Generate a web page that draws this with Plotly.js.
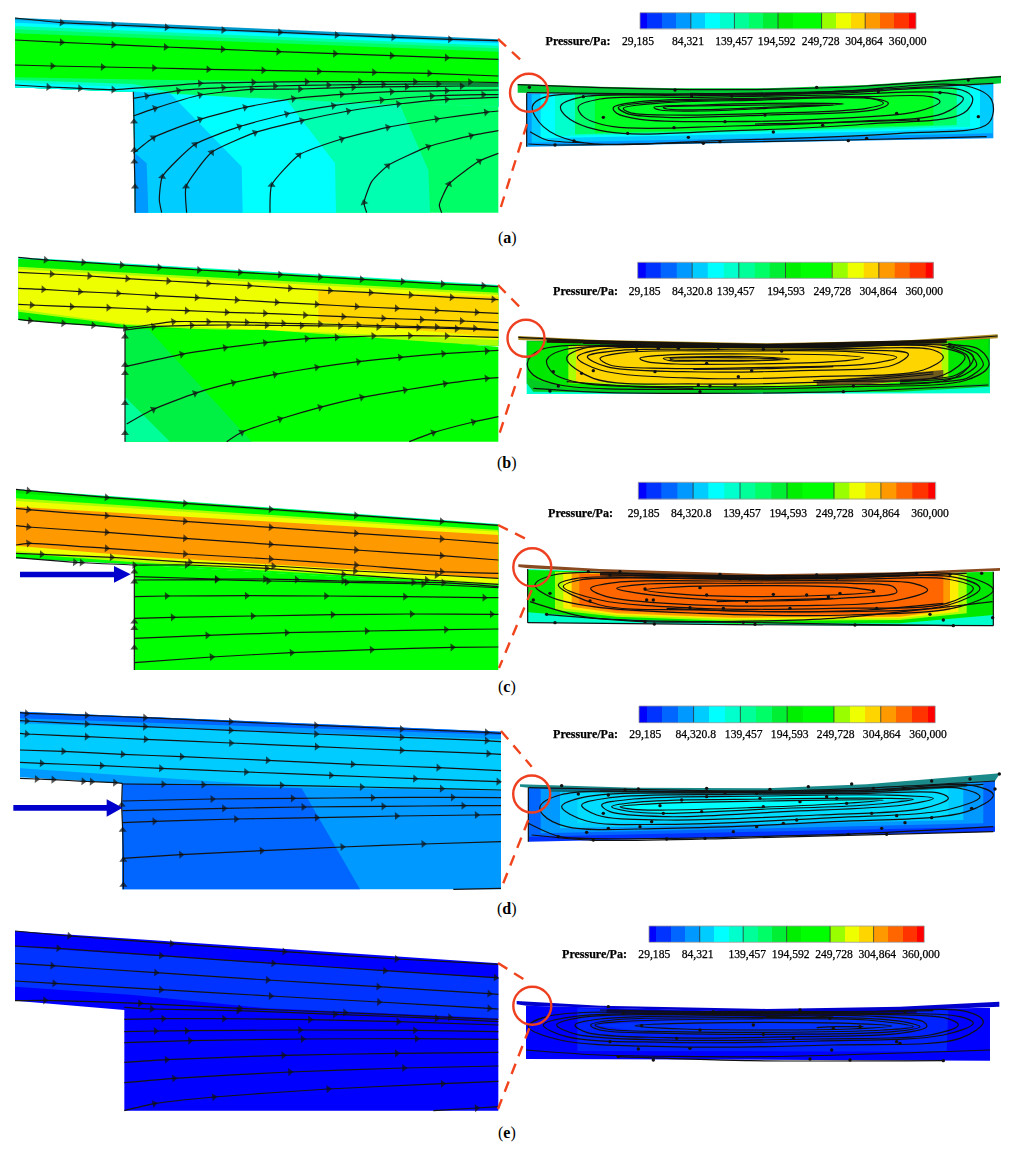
<!DOCTYPE html>
<html>
<head>
<meta charset="utf-8">
<script src="https://cdn.plot.ly/plotly-3.0.1.min.js"></script>
<style>
  body { margin: 0; background: #fff; }
  #chart { width: 1015px; height: 1149px; position: relative; }
  /* reference is a soft scan, captions sit in the top svg and stay sharp */
  #chart .main-svg:first-of-type { filter: blur(0.6px); }
  #chart .textpoint text { stroke: #000; stroke-width: 0.25px; }
</style>
</head>
<body>
<div id="chart"></div>
<script>
// all shapes below are read off 3x crops, so values are crop units (x, y, x, y, ...)
// crop origins in page pixels: a 0, b 250, c 475, d 700, e 920 left; a 0, b 250, c 475, d 695, e 915 right
const captions = ['a', 'b', 'c', 'd', 'e'];
const captionY = [238, 463, 687, 909, 1133];
const leftOriginY = [0, 250, 475, 700, 920];
const rightOriginY = [0, 250, 475, 695, 915];

// colour bar
const cbarColors = ['#0000ff', '#0033ff', '#0066ff', '#0099ff', '#00ccff', '#00ffff', '#00ffcc', '#00ff99', '#00ff66', '#00ee33',
  '#00ee00', '#00ff00', '#00ff00', '#99ff00', '#eeff00', '#ffd500', '#ff9900', '#ff6600', '#ff3300', '#ff0000'];
const cbarCells = [0, 0.5, 1.5, 2.5, 3.5, 4.5, 5.5, 6.5, 7.5, 8.5, 9.5, 10.5, 11.5, 12.5, 13.5, 14.5, 15.5, 16.5, 17.5, 18.5, 19];
const cbarMajor = [3.5, 6.5, 9.5, 12.5, 15.5];
const cbarX0 = [640, 637.7, 638.3, 639, 649];
const cbarX1 = [916, 933.3, 935.7, 935.3, 924.3];
const cbarY0 = [12.7, 262.3, 482.3, 706, 926];
const cbarY1 = [29, 278.3, 499, 722.7, 942.3];

const labelY = [41.7, 291.7, 514.3, 735.3, 955];
const pressureX = [578, 585.5, 580.5, 585.5, 594.5];
const tickTextA = ['29,185', '84,321', '139,457', '194,592', '249,728', '304,864', '360,000'];
const tickTextB = ['29,185', '84,320.8', '139,457', '194,593', '249,728', '304,864', '360,000'];
const tickText = [tickTextA, tickTextB, tickTextB, tickTextB, tickTextA];
const tickXA = [638, 688, 734, 776.7, 820.7, 864, 907.7];
const tickXB = [644.7, 692.3, 735.7, 786, 832.3, 878.3, 924.3];
const tickXC = [643.7, 691.3, 742, 788.3, 834.7, 880.7, 930];
const tickXD = [645.3, 695.7, 743.7, 789.7, 835.7, 881.7, 928];
const tickXE = [654.3, 697.7, 747.3, 790.7, 834, 877.3, 921];
const tickX = [tickXA, tickXB, tickXC, tickXD, tickXE];

// red call-outs, page pixels
const circleX = [529, 526, 532.3, 531.7, 532.3];
const circleY = [92.7, 338.3, 567.3, 794, 1005.7];
const circleR = [19, 18.5, 19, 18.5, 19];
const dashUpperX = [[498, 523], [498, 522.7], [498, 531.7], [501, 531.7], [498, 526]];
const dashUpperY = [[39, 62], [285, 310], [525, 541.7], [731, 766.7], [963, 980.7]];
const dashLowerX = [[527, 499], [521, 499], [531.7, 499], [528.3, 501], [529.3, 498]];
const dashLowerY = [[124, 213], [368, 435], [590, 668], [820, 889], [1028.3, 1109]];

// blue arrows (c, d), crop units
const blueArrowC = [60, 290, 342, 290, 342, 273, 392, 298, 342, 323, 342, 307, 60, 307];
const blueArrowD = [40, 315, 320, 315, 320, 298, 368, 323, 320, 350, 320, 332, 40, 332];

// --- panel a, left
const leftAColors = ['#0099cc', '#00ccff', '#00ffff', '#00ffaa', '#00ff66', '#00ff00', '#00ffcc', '#00ffff',
  '#00ff66', '#00ffb0', '#00ffff', '#00ccff', '#0099ff'];
const leftAFills = [
  [45, 53, 1495, 118, 1495, 320, 400, 275, 45, 262],
  [45, 60, 1495, 125, 1495, 320, 400, 275, 45, 262],
  [45, 68, 1495, 130, 1495, 320, 400, 275, 45, 262],
  [45, 78, 1495, 137, 1495, 320, 400, 275, 45, 262],
  [45, 88, 1495, 145, 1495, 320, 400, 275, 45, 262],
  [45, 100, 1495, 155, 1495, 248, 510, 240, 45, 232],
  [45, 240, 400, 252, 520, 278, 400, 275, 45, 262],
  [45, 248, 400, 262, 480, 278, 400, 275, 45, 262],
  [400, 275, 1495, 320, 1495, 638, 405, 638],
  [400, 275, 1200, 315, 1285, 510, 1290, 638, 405, 638],
  [400, 275, 860, 300, 1005, 490, 1008, 638, 405, 638],
  [400, 275, 510, 280, 725, 500, 728, 638, 405, 638],
  [405, 460, 440, 490, 445, 638, 405, 638]
];
const leftALines = [
  [45, 54, 185, 68, 340, 75, 500, 82, 670, 90, 840, 97, 1010, 105, 1180, 112, 1350, 118, 1495, 122],
  [45, 120, 185, 127, 340, 134, 497, 141, 668, 148, 835, 155, 1005, 161, 1175, 167, 1340, 173, 1495, 178],
  [45, 195, 157, 198, 308, 201, 462, 204, 625, 208, 790, 211, 957, 214, 1122, 217, 1288, 220, 1495, 228],
  [45, 255, 145, 261, 240, 265, 340, 269, 600, 250, 760, 247, 920, 245, 1080, 245, 1245, 245, 1410, 246, 1495, 248],
  [400, 295, 440, 288, 535, 272, 670, 263, 825, 258, 985, 255, 1150, 253, 1315, 252, 1495, 252],
  [400, 348, 465, 325, 600, 285, 755, 268, 900, 267, 1060, 262, 1220, 260, 1385, 258, 1495, 258],
  [400, 460, 460, 413, 600, 358, 735, 322, 880, 296, 1025, 283, 1175, 275, 1340, 272, 1495, 270],
  [485, 638, 478, 600, 487, 530, 585, 433, 718, 380, 860, 342, 1000, 317, 1145, 300, 1295, 288, 1450, 284, 1495, 284],
  [560, 638, 558, 560, 635, 457, 765, 398, 905, 362, 1045, 333, 1195, 312, 1340, 298, 1495, 292],
  [810, 638, 815, 555, 897, 465, 1025, 417, 1163, 382, 1310, 357, 1458, 337, 1495, 333],
  [1100, 638, 1092, 608, 1115, 545, 1163, 497, 1285, 440, 1413, 407, 1495, 392],
  [1325, 638, 1318, 615, 1347, 552, 1438, 483, 1495, 460],
  [405, 638, 405, 560, 403, 485, 403, 450, 402, 365, 400, 275]
];
// bend points on these lines carry no arrowhead: [line, point]
const leftAPlain = [[7, 1], [10, 2], [11, 1]];

// --- panel b, left
const leftBColors = ['#00ffcc', '#00ee00', '#aaff00', '#eeff00', '#ffd500', '#00ff00', '#00f044', '#00ff99'];
const leftBFills = [
  [55, 22, 1495, 105, 1495, 288, 375, 235, 55, 210],
  [55, 26, 1495, 108, 1495, 288, 375, 235, 55, 210],
  [55, 50, 1495, 128, 1495, 288, 375, 225, 55, 185],
  [55, 58, 1495, 135, 1495, 270, 380, 222, 55, 178],
  [955, 122, 1495, 140, 1495, 262, 955, 215],
  [375, 235, 800, 240, 1495, 290, 1495, 575, 375, 575],
  [375, 238, 445, 238, 755, 575, 375, 575],
  [375, 440, 510, 575, 375, 575]
];
const leftBLines = [
  [55, 22, 137, 30, 250, 37, 365, 45, 478, 52, 597, 60, 720, 67, 840, 74, 960, 81, 1085, 88, 1208, 95, 1328, 102, 1450, 107, 1495, 110],
  [55, 67, 155, 72, 268, 78, 382, 86, 505, 93, 625, 100, 748, 107, 870, 115, 990, 122, 1112, 128, 1232, 135, 1355, 142, 1480, 148, 1495, 149],
  [55, 115, 130, 118, 240, 125, 355, 130, 470, 137, 590, 143, 710, 150, 830, 157, 950, 163, 1070, 170, 1190, 175, 1310, 181, 1430, 187, 1495, 190],
  [55, 163, 95, 165, 215, 170, 325, 173, 445, 178, 560, 182, 680, 187, 795, 190, 915, 195, 1030, 200, 1150, 205, 1265, 209, 1385, 213, 1495, 218],
  [55, 208, 90, 212, 190, 220, 280, 226, 375, 234, 520, 215, 625, 215, 740, 217, 850, 220, 960, 222, 1075, 225, 1190, 228, 1310, 231, 1425, 235, 1495, 240],
  [375, 240, 460, 230, 575, 226, 685, 225, 800, 226, 905, 227, 1020, 228, 1135, 231, 1255, 233, 1370, 236, 1495, 241],
  [375, 350, 545, 313, 675, 293, 795, 278, 920, 266, 1010, 262, 1120, 258, 1230, 257, 1340, 258, 1495, 262],
  [380, 522, 460, 478, 585, 430, 700, 398, 825, 373, 950, 352, 1075, 335, 1200, 322, 1330, 311, 1460, 303, 1495, 301],
  [680, 575, 725, 547, 840, 507, 960, 472, 1085, 442, 1215, 420, 1335, 401, 1460, 385, 1495, 383],
  [1228, 575, 1300, 548, 1420, 516, 1495, 500],
  [375, 575, 375, 550, 375, 460, 375, 370, 375, 345, 375, 260, 375, 238]
];

// --- panel c, left
const leftCColors = ['#00ffcc', '#00e600', '#00ff00', '#aaff00', '#eeff00', '#ff9900', '#00ff00'];
const leftCFills = [
  [48, 43, 1495, 147, 1495, 335, 403, 268, 48, 250],
  [48, 44, 1495, 149, 1495, 335, 403, 268, 48, 250],
  [48, 55, 1495, 155, 1495, 335, 403, 266, 48, 245],
  [48, 70, 1495, 165, 1495, 330, 403, 262, 48, 235],
  [48, 78, 1495, 170, 1495, 325, 403, 255, 48, 228],
  [48, 95, 1495, 180, 1495, 310, 403, 243, 48, 212],
  [403, 268, 1495, 335, 1495, 585, 403, 585]
];
const leftCLines = [
  [48, 43, 85, 47, 320, 67, 555, 85, 812, 103, 1068, 121, 1325, 139, 1495, 151],
  [48, 100, 85, 104, 320, 122, 555, 139, 812, 157, 1068, 175, 1325, 192, 1495, 205],
  [48, 152, 85, 156, 320, 172, 555, 190, 812, 208, 1068, 225, 1325, 242, 1495, 255],
  [48, 210, 85, 205, 320, 220, 555, 237, 812, 252, 1068, 270, 1325, 290, 1495, 295],
  [48, 235, 125, 238, 335, 247, 570, 262, 820, 273, 1065, 288, 1310, 300, 1495, 310],
  [48, 248, 225, 262, 245, 263, 403, 270, 560, 270, 800, 280, 1030, 298, 1280, 315, 1495, 328],
  [403, 305, 650, 312, 795, 312, 890, 314, 1030, 318, 1240, 322, 1330, 323, 1495, 335],
  [403, 315, 650, 314, 805, 318, 1040, 322, 1270, 327, 1495, 338],
  [403, 365, 500, 363, 740, 362, 978, 363, 1215, 365, 1453, 368, 1495, 368],
  [403, 430, 518, 427, 758, 423, 998, 419, 1235, 417, 1475, 418, 1495, 418],
  [403, 490, 622, 481, 860, 473, 1100, 468, 1338, 464, 1495, 462],
  [403, 563, 635, 546, 875, 533, 1115, 524, 1357, 517, 1495, 516],
  [403, 585, 403, 518, 403, 460, 403, 440, 403, 320, 403, 290, 403, 270]
];

// --- panel d, left
const leftDColors = ['#0099ff', '#0066ff', '#00ccff', '#0066ff'];
const leftDFills = [
  [60, 35, 1503, 95, 1503, 568, 367, 568, 367, 250, 60, 232],
  [60, 35, 1503, 95, 1503, 105, 60, 55],
  [60, 70, 1503, 118, 1503, 272, 900, 262, 60, 205],
  [367, 250, 905, 265, 1080, 568, 367, 568]
];
const leftDLines = [
  [60, 38, 80, 40, 260, 46, 435, 53, 692, 65, 948, 76, 1205, 87, 1460, 97, 1503, 100],
  [60, 62, 80, 63, 260, 72, 435, 80, 692, 91, 948, 102, 1205, 112, 1460, 122, 1503, 125],
  [60, 100, 80, 102, 260, 110, 437, 118, 693, 129, 950, 140, 1205, 151, 1465, 161, 1503, 163],
  [60, 150, 190, 154, 368, 163, 545, 170, 803, 181, 1058, 193, 1315, 203, 1503, 212],
  [60, 187, 125, 190, 305, 197, 483, 205, 738, 216, 993, 226, 1245, 236, 1495, 245, 1503, 246],
  [60, 235, 110, 237, 160, 239, 250, 244, 275, 245, 345, 248, 367, 250],
  [367, 252, 490, 253, 610, 254, 845, 256, 1085, 261, 1325, 266, 1503, 270],
  [367, 303, 637, 297, 878, 295, 1118, 293, 1358, 292, 1503, 293],
  [367, 332, 672, 325, 910, 321, 1150, 319, 1390, 317, 1503, 317],
  [367, 368, 463, 364, 708, 357, 950, 353, 1190, 348, 1430, 345, 1503, 344],
  [367, 475, 543, 464, 785, 452, 1027, 441, 1270, 432, 1503, 425],
  [370, 568, 370, 555, 370, 480, 368, 390, 365, 315, 367, 250],
  [1360, 568, 1503, 565]
];

// --- panel e, left
const leftEColors = ['#0000ff', '#0033ff'];
const leftEFills = [
  [45, 33, 1495, 130, 1495, 572, 373, 572, 373, 270, 45, 242],
  [45, 80, 1495, 175, 1495, 295, 800, 265, 400, 225, 45, 200]
];
const leftELines = [
  [45, 33, 208, 48, 515, 71, 853, 95, 1190, 117, 1495, 133],
  [45, 78, 175, 85, 483, 107, 820, 130, 1155, 152, 1487, 173, 1495, 174],
  [45, 130, 157, 137, 468, 158, 803, 180, 1135, 200, 1468, 221, 1495, 223],
  [45, 183, 163, 190, 483, 209, 812, 228, 1137, 246, 1468, 265, 1495, 267],
  [45, 242, 135, 241, 420, 250, 720, 265, 1035, 278, 1350, 292, 1495, 298],
  [373, 262, 455, 267, 715, 272, 1005, 283, 1310, 295, 1495, 305],
  [373, 298, 490, 296, 672, 296, 930, 299, 1195, 305, 1495, 315],
  [373, 335, 467, 333, 560, 332, 900, 330, 1245, 331, 1495, 335],
  [373, 368, 570, 362, 908, 357, 1250, 356, 1495, 358],
  [373, 427, 500, 419, 850, 406, 1190, 400, 1495, 397],
  [373, 488, 522, 475, 870, 456, 1212, 444, 1495, 438],
  [373, 572, 463, 551, 642, 531, 985, 507, 1328, 491, 1495, 484],
  [1300, 572, 1430, 564, 1495, 560]
];

// --- panel a, right
const rightAColors = ['#0099ff', '#00ccff', '#00ffff', '#00ffcc', '#00ff66', '#00ff22', '#00cc33', '#063a16'];
const rightAFills = [
  [80, 280, 500, 283, 800, 283, 1100, 272, 1480, 252, 1480, 415, 80, 440],
  [95, 283, 800, 284, 1100, 272, 1478, 254, 1478, 400, 1100, 408, 95, 428],
  [122, 283, 800, 285, 1440, 256, 1440, 385, 1100, 395, 122, 415],
  [165, 283, 800, 285, 1410, 258, 1410, 380, 1100, 390, 700, 398, 165, 408],
  [225, 284, 800, 284, 1370, 260, 1370, 375, 1100, 385, 700, 393, 225, 403],
  [285, 285, 800, 284, 1300, 265, 1300, 375, 900, 385, 285, 398],
  [53, 252, 300, 260, 525, 265, 800, 265, 1100, 255, 1503, 227, 1503, 250, 1480, 252, 1100, 272, 800, 283, 500, 283, 80, 278, 53, 278],
  [570, 278, 800, 282, 1150, 266, 1150, 272, 800, 288, 570, 285]
];
const rightALoops = [
  [97, 320, 130, 293, 500, 283, 1000, 275, 1400, 258, 1475, 300, 1465, 370, 1200, 400, 700, 420, 230, 425, 130, 380],
  [182, 318, 240, 292, 600, 287, 1000, 280, 1385, 270, 1418, 295, 1390, 340, 1100, 372, 700, 392, 320, 395, 200, 350],
  [235, 320, 300, 297, 600, 292, 1000, 285, 1330, 278, 1390, 295, 1330, 340, 1050, 365, 700, 378, 340, 380, 250, 350],
  [340, 323, 420, 305, 750, 295, 1100, 290, 1290, 290, 1320, 305, 1250, 335, 950, 358, 650, 365, 420, 358, 350, 340],
  [355, 322, 450, 307, 750, 298, 1100, 293, 1165, 310, 1130, 328, 800, 345, 500, 352, 380, 340],
  [370, 325, 470, 310, 750, 301, 1120, 297, 1150, 310, 1100, 325, 800, 340, 500, 345, 390, 338],
  [462, 322, 600, 315, 800, 310, 1030, 312, 800, 325, 600, 333, 480, 330],
  [490, 322, 650, 317, 800, 315, 1000, 315, 800, 322, 650, 328, 500, 327]
];
const rightAOpen = [
  [53, 254, 300, 263, 525, 268, 800, 268, 1100, 258, 1503, 230],
  [80, 278, 500, 282, 800, 281, 1100, 270, 1480, 250],
  [765, 372, 1000, 368, 1250, 360],
  [85, 432, 165, 435, 600, 428, 1040, 420, 1460, 410],
  [90, 395, 140, 420, 250, 428],
  [80, 280, 80, 440]
];
const rightADots = [165, 435, 222, 423, 383, 400, 522, 383, 565, 412, 610, 430, 660, 425, 820, 396, 968, 376, 1100, 415, 1190, 340, 1255, 360, 1435, 350,
  1320, 278, 1135, 275, 950, 262, 695, 288, 575, 288, 525, 270, 250, 290, 310, 352, 675, 365, 795, 345, 1045, 422, 88, 262, 1405, 240];

// --- panel b, right
const rightBColors = ['#00ffcc', '#00cc22', '#00e800', '#aaff00', '#ffd500', '#a88a20', '#1e1405', '#6e5a1c'];
const rightBFills = [
  [80, 272, 800, 285, 1470, 265, 1470, 430, 80, 432],
  [80, 272, 800, 285, 1470, 265, 1468, 410, 1200, 425, 580, 430, 100, 425, 80, 400],
  [85, 275, 800, 287, 1465, 268, 1465, 400, 1200, 415, 600, 418, 200, 415, 85, 385],
  [205, 285, 800, 287, 1345, 280, 1345, 385, 1100, 405, 600, 412, 205, 400],
  [228, 285, 800, 287, 1325, 280, 1325, 385, 1100, 400, 600, 405, 228, 395],
  [55, 258, 300, 270, 800, 280, 1200, 272, 1493, 253, 1493, 265, 1200, 282, 800, 288, 300, 278, 55, 270],
  [140, 268, 800, 282, 1340, 268, 1340, 278, 800, 292, 140, 278],
  [950, 395, 1100, 380, 1330, 360, 1330, 385, 1100, 403, 950, 406]
];
const rightBLoops = [
  [82, 340, 120, 300, 500, 290, 1000, 290, 1340, 283, 1440, 300, 1467, 345, 1400, 390, 1050, 410, 600, 418, 180, 405, 100, 375],
  [140, 330, 190, 300, 600, 292, 1000, 292, 1340, 288, 1420, 320, 1370, 380, 1000, 405, 600, 410, 250, 400, 160, 370],
  [200, 325, 250, 295, 600, 290, 1000, 290, 1300, 290, 1395, 320, 1330, 375, 1000, 395, 600, 402, 280, 385],
  [232, 322, 300, 298, 650, 293, 1050, 295, 1300, 300, 1330, 322, 1270, 360, 950, 380, 600, 385, 300, 360],
  [262, 320, 350, 302, 650, 298, 1050, 300, 1225, 312, 1180, 345, 900, 362, 550, 365, 320, 350],
  [300, 325, 380, 307, 700, 303, 1050, 305, 1190, 322, 1120, 340, 800, 352, 500, 355, 330, 345],
  [420, 325, 520, 314, 750, 312, 1000, 315, 1090, 323, 1000, 335, 750, 342, 530, 342, 440, 335],
  [490, 325, 620, 320, 750, 320, 870, 327, 750, 333, 600, 333, 510, 332],
  [510, 326, 620, 323, 750, 324, 850, 327, 750, 331, 600, 331, 520, 330]
];
const rightBOpen = [
  [55, 262, 300, 273, 800, 283, 1200, 276, 1493, 258],
  [250, 280, 600, 287, 1000, 286, 1340, 276],
  [300, 285, 700, 290, 1200, 284],
  [1345, 280, 1430, 310, 1450, 345, 1400, 385, 1200, 400],
  [1345, 285, 1410, 310, 1430, 345, 1380, 380, 1200, 395],
  [1340, 290, 1400, 315, 1410, 345, 1360, 378, 1200, 390],
  [940, 397, 1100, 390, 1300, 372],
  [940, 392, 1100, 385, 1300, 366],
  [580, 358, 800, 356, 1000, 350],
  [200, 395, 400, 410, 580, 415],
  [100, 415, 300, 427, 580, 430, 1030, 425, 1465, 405]
];
const rightBDots = [150, 423, 175, 408, 280, 362, 410, 300, 475, 295, 535, 295, 620, 340, 655, 292, 790, 298, 845, 303, 875, 288, 1000, 290, 1095, 285,
  595, 405, 630, 408, 705, 405, 715, 380, 755, 362, 1060, 408, 1030, 425, 600, 425, 160, 365, 245, 370, 465, 365];

// --- panel c, right
const rightCColors = ['#00ffcc', '#00e800', '#aaff00', '#ffee00', '#ff9900', '#ff6600', '#8a4a20', '#3c1e0c'];
const rightCFills = [
  [83, 282, 500, 297, 800, 305, 1200, 300, 1480, 290, 1480, 452, 1100, 452, 700, 448, 83, 443],
  [83, 285, 800, 305, 1480, 290, 1480, 420, 1200, 445, 700, 446, 350, 432, 180, 420, 83, 412],
  [165, 290, 800, 305, 1400, 293, 1400, 415, 1200, 435, 700, 438, 350, 425, 165, 405],
  [190, 292, 800, 305, 1375, 293, 1375, 410, 1200, 430, 700, 433, 350, 420, 190, 400],
  [215, 294, 800, 305, 1350, 293, 1350, 405, 1200, 425, 700, 428, 350, 415, 215, 395],
  [238, 296, 800, 305, 1330, 294, 1330, 398, 1200, 418, 700, 420, 350, 408, 238, 390],
  [55, 268, 300, 282, 800, 298, 1200, 292, 1500, 279, 1500, 287, 1200, 300, 800, 306, 300, 290, 85, 280, 55, 276],
  [300, 290, 800, 302, 1250, 292, 1250, 300, 800, 316, 300, 300]
];
const rightCLoops = [
  [105, 330, 160, 300, 600, 302, 1000, 302, 1380, 300, 1480, 345, 1380, 395, 1050, 420, 600, 415, 280, 395, 150, 365],
  [175, 330, 230, 310, 600, 310, 1000, 310, 1370, 308, 1440, 340, 1345, 390, 1000, 410, 600, 405, 300, 390],
  [190, 335, 240, 315, 700, 313, 1100, 312, 1340, 312, 1420, 340, 1340, 385, 1000, 400, 600, 400, 300, 375],
  [272, 340, 350, 322, 700, 318, 1100, 318, 1240, 325, 1283, 345, 1180, 378, 900, 392, 550, 388, 320, 365],
  [350, 340, 430, 328, 750, 325, 1050, 325, 1180, 335, 1190, 352, 1050, 368, 800, 378, 500, 365],
  [435, 345, 550, 335, 800, 332, 1050, 338, 1125, 350, 1000, 360, 750, 365, 550, 358]
];
const rightCOpen = [
  [90, 380, 250, 425, 600, 440, 1000, 430, 1478, 380],
  [135, 418, 430, 440, 730, 442, 1060, 448, 1360, 452],
  [300, 300, 600, 305, 1000, 306, 1400, 295],
  [400, 302, 800, 308, 1200, 303],
  [500, 400, 800, 410, 1100, 405, 1330, 385],
  [650, 380, 1000, 370],
  [83, 282, 83, 443],
  [83, 443, 700, 449, 1480, 452],
  [1480, 452, 1480, 290]
];
const rightCDots = [165, 443, 435, 440, 463, 447, 730, 442, 765, 448, 1065, 450, 1360, 452, 1478, 428, 1330, 435, 140, 418, 100, 375, 150, 355, 270, 378,
  440, 375, 460, 375, 570, 398, 740, 380, 820, 358, 920, 360, 985, 365, 1020, 355, 1120, 348, 435, 342, 600, 338, 620, 360, 330, 300, 360, 290, 265, 290,
  490, 305, 660, 298, 720, 312, 850, 305, 950, 300, 1010, 310, 1250, 295, 1350, 298, 1445, 295, 1130, 400, 1290, 418, 670, 400, 870, 400];

// --- panel d, right
const rightDColors = ['#0033ff', '#0066ff', '#0099ff', '#00ccff', '#00ddff', '#00ffff', '#1a8a8a', '#0a6a78'];
const rightDFills = [
  [85, 278, 800, 290, 1100, 280, 1485, 258, 1485, 410, 85, 440],
  [85, 278, 800, 290, 1100, 280, 1485, 258, 1485, 395, 85, 425],
  [122, 282, 800, 290, 1450, 262, 1450, 385, 122, 415],
  [180, 285, 800, 290, 1390, 265, 1390, 375, 180, 400],
  [232, 285, 800, 290, 1345, 272, 1345, 365, 232, 385],
  [340, 330, 500, 315, 900, 300, 1250, 305, 1000, 330, 800, 345, 500, 358],
  [60, 268, 400, 278, 800, 280, 1100, 268, 1500, 235, 1485, 258, 1100, 280, 800, 290, 85, 278, 60, 275],
  [150, 282, 800, 290, 1400, 264, 1400, 276, 1100, 296, 800, 300, 150, 290]
];
const rightDLoops = [
  [120, 335, 180, 300, 600, 290, 1100, 285, 1420, 272, 1480, 300, 1400, 350, 1000, 380, 500, 400, 200, 395, 130, 360],
  [185, 335, 260, 305, 650, 293, 1100, 290, 1380, 280, 1440, 305, 1340, 345, 1000, 368, 500, 388, 260, 378],
  [245, 330, 330, 308, 700, 298, 1100, 295, 1320, 295, 1345, 310, 1270, 340, 950, 360, 500, 375, 290, 360],
  [305, 330, 400, 312, 800, 303, 1150, 300, 1300, 310, 1210, 330, 850, 350, 500, 365, 330, 350],
  [335, 335, 430, 320, 800, 312, 1150, 310, 1240, 313, 1100, 330, 800, 342, 500, 355, 380, 348],
  [360, 335, 480, 325, 800, 318, 1150, 315, 1000, 327, 750, 338, 500, 345, 400, 343]
];
const rightDOpen = [
  [85, 385, 180, 425, 500, 430, 1100, 415, 1480, 395],
  [95, 420, 280, 436, 700, 430, 1160, 418, 1480, 410],
  [300, 288, 800, 292, 1200, 282, 1450, 268],
  [85, 278, 800, 288, 1100, 279, 1485, 258],
  [85, 278, 85, 440]
];
const rightDDots = [185, 272, 235, 297, 325, 300, 375, 285, 415, 282, 620, 280, 675, 293, 770, 295, 810, 283, 925, 275, 1055, 267, 1120, 280, 1210, 280,
  1295, 258, 1410, 252, 1485, 282, 1498, 237, 545, 315, 620, 305, 605, 350, 490, 355, 480, 332, 310, 355, 325, 400, 260, 412, 175, 425, 280, 435, 500, 432,
  615, 430, 700, 410, 770, 395, 850, 385, 890, 375, 1040, 325, 1010, 310, 1115, 355, 1190, 362, 1215, 383, 1295, 368, 1415, 340, 1145, 400, 1160, 418,
  1045, 418, 980, 305, 900, 320, 780, 310, 455, 380, 420, 395, 790, 335];

// --- panel e, right
const rightEColors = ['#0000ff', '#0022ff', '#0033ff', '#0000cc', '#00008a'];
const rightEFills = [
  [78, 272, 800, 290, 1470, 278, 1470, 437, 78, 432],
  [232, 280, 800, 292, 1345, 285, 1340, 410, 232, 408],
  [290, 330, 700, 305, 1100, 306, 1270, 330, 1100, 352, 500, 360],
  [50, 258, 300, 272, 800, 282, 1200, 275, 1498, 260, 1498, 275, 1200, 287, 800, 292, 80, 272, 50, 268],
  [320, 282, 800, 292, 1250, 285, 1250, 294, 800, 306, 320, 294]
];
const rightELoops = [
  [85, 335, 140, 305, 600, 290, 1100, 290, 1400, 290, 1450, 320, 1380, 370, 1000, 390, 500, 395, 180, 375],
  [130, 330, 220, 305, 650, 295, 1100, 295, 1380, 305, 1420, 325, 1330, 360, 950, 378, 500, 382, 200, 365],
  [170, 330, 240, 308, 650, 298, 1100, 298, 1340, 310, 1375, 330, 1290, 360, 950, 372, 500, 375, 230, 358],
  [225, 330, 300, 312, 700, 302, 1100, 303, 1270, 320, 1280, 335, 1200, 355, 900, 365, 500, 368, 260, 352],
  [272, 330, 340, 315, 700, 308, 1100, 310, 1220, 322, 1260, 335, 1180, 350, 850, 358, 500, 355, 300, 345],
  [285, 330, 360, 320, 700, 312, 1100, 315, 1240, 335, 1150, 345, 800, 352, 500, 350, 320, 342],
  [405, 332, 550, 325, 800, 322, 1050, 325, 1175, 333, 1050, 342, 800, 345, 550, 342]
];
const rightEOpen = [
  [78, 405, 300, 420, 800, 425, 1470, 405],
  [350, 425, 750, 437, 1330, 437],
  [300, 285, 800, 293, 1300, 287],
  [950, 338, 1010, 335, 1090, 335],
  [800, 305, 900, 307, 1000, 303]
];
const rightEDots = [355, 425, 460, 435, 930, 432, 1050, 435, 1330, 437, 995, 405, 570, 400, 415, 402, 330, 380, 530, 370, 880, 368, 1200, 385, 1190, 380,
  790, 358, 640, 290, 370, 295, 900, 285, 1215, 290, 990, 310, 425, 332, 1000, 340, 1080, 335, 325, 275, 600, 345, 760, 330];

const leftColors = [leftAColors, leftBColors, leftCColors, leftDColors, leftEColors];
const leftFills = [leftAFills, leftBFills, leftCFills, leftDFills, leftEFills];
const leftLines = [leftALines, leftBLines, leftCLines, leftDLines, leftELines];
const leftPlain = [leftAPlain, [], [], [], []];
const rightColors = [rightAColors, rightBColors, rightCColors, rightDColors, rightEColors];
const rightFills = [rightAFills, rightBFills, rightCFills, rightDFills, rightEFills];
const rightLoops = [rightALoops, rightBLoops, rightCLoops, rightDLoops, rightELoops];
const rightOpen = [rightAOpen, rightBOpen, rightCOpen, rightDOpen, rightEOpen];
const rightDots = [rightADots, rightBDots, rightCDots, rightDDots, rightEDots];

// crop units -> page pixels
const toPage = (flat, ox, oy) => {
  const x = [], y = [];
  for (let i = 0; i < flat.length; i += 2) {
    x.push(flat[i] / 3 + ox);
    y.push(flat[i + 1] / 3 + oy);
  }
  return { x, y };
};

const traces = [];

const addFill = (flat, ox, oy, color) => {
  traces.push({ ...toPage(flat, ox, oy), type: 'scatter', mode: 'lines', fill: 'toself', fillcolor: color,
    line: { width: 0 }, hoverinfo: 'skip' });
};

// streamline with an arrowhead on every inner point, except the listed bends
const addStream = (flat, ox, oy, plain) => {
  const p = toPage(flat, ox, oy);
  const sizes = p.x.map((_, i) => (i === 0 || i === p.x.length - 1 || plain.includes(i)) ? 0 : 7);
  traces.push({ ...p, type: 'scatter', mode: 'lines+markers', hoverinfo: 'skip',
    line: { color: '#141414', width: 1.2, shape: 'spline', smoothing: 0.5 },
    marker: { symbol: 'triangle-up', size: sizes, color: '#111', angleref: 'previous', line: { width: 0 } } });
};

captions.forEach((_, k) => {
  const oyL = leftOriginY[k], oyR = rightOriginY[k];

  leftFills[k].forEach((f, i) => addFill(f, 0, oyL, leftColors[k][i]));
  leftLines[k].forEach((l, i) => addStream(l, 0, oyL, leftPlain[k].filter(p => p[0] === i).map(p => p[1])));

  rightFills[k].forEach((f, i) => addFill(f, 500, oyR, rightColors[k][i]));
  rightLoops[k].forEach(l => {
    const closed = l.concat([l[0], l[1]]);
    traces.push({ ...toPage(closed, 500, oyR), type: 'scatter', mode: 'lines', hoverinfo: 'skip',
      line: { color: '#111', width: 1.2, shape: 'spline', smoothing: 1 } });
  });
  rightOpen[k].forEach(l => {
    traces.push({ ...toPage(l, 500, oyR), type: 'scatter', mode: 'lines', hoverinfo: 'skip',
      line: { color: '#111', width: 1.2, shape: 'spline', smoothing: 0.7 } });
  });
  traces.push({ ...toPage(rightDots[k], 500, oyR), type: 'scatter', mode: 'markers', hoverinfo: 'skip',
    marker: { size: 3.4, color: '#111' } });

  // colour bar
  const w = (cbarX1[k] - cbarX0[k]) / 19;
  traces.push({ type: 'heatmap', x: cbarCells.map(c => cbarX0[k] + c * w), y: [cbarY0[k], cbarY1[k]],
    z: [cbarColors.map((_, i) => i)], zmin: 0, zmax: 19, showscale: false, hoverinfo: 'skip',
    colorscale: cbarColors.map((c, i) => [i / 19, c]) });
  cbarMajor.forEach(m => {
    const xm = cbarX0[k] + m * w;
    traces.push({ x: [xm, xm], y: [cbarY0[k], cbarY1[k]], type: 'scatter', mode: 'lines', hoverinfo: 'skip',
      line: { color: '#333', width: 0.8 } });
  });
  traces.push({ x: [cbarX0[k], cbarX1[k], cbarX1[k], cbarX0[k], cbarX0[k]],
    y: [cbarY0[k], cbarY0[k], cbarY1[k], cbarY1[k], cbarY0[k]], type: 'scatter', mode: 'lines', hoverinfo: 'skip',
    line: { color: '#999', width: 0.8 } });

  // labels under the bar
  traces.push({ x: tickX[k], y: tickX[k].map(() => labelY[k]), text: tickText[k], type: 'scatter', mode: 'text',
    textposition: 'middle center', hoverinfo: 'skip',
    textfont: { family: '"Liberation Serif", serif', size: 11.6, color: '#000' } });
  traces.push({ x: [pressureX[k]], y: [labelY[k]], text: ['<b>Pressure/Pa:</b>'], type: 'scatter', mode: 'text',
    textposition: 'middle center', hoverinfo: 'skip',
    textfont: { family: '"Liberation Serif", serif', size: 12, color: '#000' } });

  // red dashed call-out lines
  [[dashUpperX[k], dashUpperY[k]], [dashLowerX[k], dashLowerY[k]]].forEach(([x, y]) => {
    traces.push({ x, y, type: 'scatter', mode: 'lines', hoverinfo: 'skip',
      line: { color: '#f0441c', width: 2.4, dash: '11px,8px' } });
  });
});

addFill(blueArrowC, 0, leftOriginY[2], '#0000cc');
addFill(blueArrowD, 0, leftOriginY[3], '#0000cc');

const shapes = captions.map((_, k) => ({
  type: 'circle', xref: 'x', yref: 'y',
  x0: circleX[k] - circleR[k], x1: circleX[k] + circleR[k],
  y0: circleY[k] - circleR[k], y1: circleY[k] + circleR[k],
  line: { color: '#ee4020', width: 2.4 }
}));

const annotations = captions.map((c, k) => ({
  x: 507, y: captionY[k], xref: 'x', yref: 'y', showarrow: false,
  text: '(<b>' + c + '</b>)', font: { family: '"Liberation Serif", serif', size: 16, color: '#000' }
}));

const layout = {
  width: 1015, height: 1149,
  margin: { l: 0, r: 0, t: 0, b: 0 },
  paper_bgcolor: '#fff', plot_bgcolor: '#fff',
  showlegend: false,
  xaxis: { range: [0, 1015], visible: false, fixedrange: true },
  yaxis: { range: [1149, 0], visible: false, fixedrange: true },
  shapes, annotations
};

Plotly.newPlot('chart', traces, layout, { staticPlot: true, displayModeBar: false });
</script>
</body>
</html>
